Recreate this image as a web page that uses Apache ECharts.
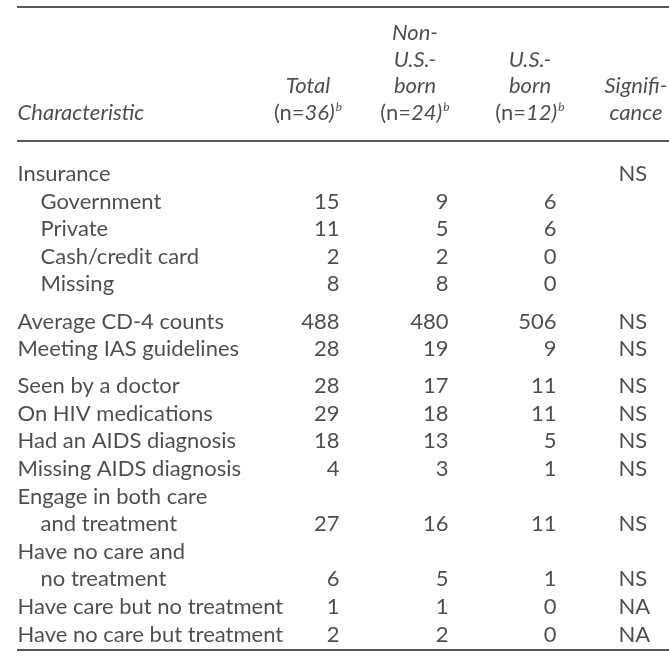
<!DOCTYPE html>
<html><head><meta charset="utf-8">
<script src="https://cdn.jsdelivr.net/npm/echarts@6/dist/echarts.min.js"></script>
<style>html,body{margin:0;padding:0;background:#fff}#c{width:669px;height:669px}</style>
</head><body><div id="c"></div>
<script>
// ---------- DATA ----------
const rowLabels = ["Insurance","Government","Private","Cash/credit card","Missing",
  "Average CD-4 counts","Meeting IAS guidelines",
  "Seen by a doctor","On HIV medications","Had an AIDS diagnosis","Missing AIDS diagnosis",
  "Engage in both care\nand treatment","Have no care and\nno treatment",
  "Have care but no treatment","Have no care but treatment"];
const rowGroup  = [0,0,0,0,0,1,1,2,2,2,2,2,2,2,2];
const rowIndent = [0,1,1,1,1,0,0,0,0,0,0,0,0,0,0];
const totalVals = [null,15,11,2,8,488,28,28,29,18,4,27,6,1,2];
const nonUSVals = [null,9,5,2,8,480,19,17,18,13,3,16,5,1,2];
const usVals    = [null,6,6,0,0,506,9,11,11,5,1,11,1,0,0];
const significance = ["NS",null,null,null,null,"NS","NS","NS","NS","NS","NS","NS","NS","NA","NA"];
const headerFirst = "Characteristic";
const headerCols = [
  ["Total","{up|(n=}{it|36)}{sup|b}"],
  ["Non-","U.S.-","born","{up|(n=}{it|24)}{sup|b}"],
  ["U.S.-","born","{up|(n=}{it|12)}{sup|b}"],
  ["Signifi-","cance"]
];

// ---------- LAYOUT / STYLE ----------
const FONT = 'Lato', FS = 22, COLOR = '#231f20';
const firstRowY = 174, pitch = 27.6, groupGap = 9.5;
const labelX = 17, indentX = 40;
const numRight = [340, 449, 557], sigLeft = 618;
const headerBottomY = 113, headerPitch = 26.7;
const headerCenters = [308, 415, 530, 636];
const rulesY = [7, 141, 650], ruleStart = 17, ruleEnd = 669;

// build points
const leftPts = [], rightPts = [], centerPts = [], sigPts = [];
let lineIdx = 0;
rowLabels.forEach((lab, r) => {
  const lines = lab.split('\n');
  let y = 0;
  lines.forEach((ln, j) => {
    y = firstRowY + lineIdx * pitch + rowGroup[r] * groupGap;
    const x = (rowIndent[r] || j > 0) ? indentX : labelX;
    leftPts.push({value: [x, y], name: ln});
    lineIdx++;
  });
  [totalVals, nonUSVals, usVals].forEach((arr, c) => {
    if (arr[r] !== null) rightPts.push({value: [numRight[c], y], name: String(arr[r])});
  });
  if (significance[r]) sigPts.push({value: [sigLeft, y], name: significance[r]});
});
const headerLeft = [{value: [labelX, headerBottomY], name: headerFirst}];
headerCols.forEach((lines, c) => {
  const n = lines.length;
  lines.forEach((ln, k) => {
    centerPts.push({value: [headerCenters[c], headerBottomY - (n - 1 - k) * headerPitch], name: ln});
  });
});

const baseText = {fontFamily: FONT, fontSize: FS, color: COLOR};
const rich = {
  up: {fontFamily: FONT, fontSize: FS, color: COLOR, fontStyle: 'normal'},
  it: {fontFamily: FONT, fontSize: FS, color: COLOR, fontStyle: 'italic'},
  sup: {fontFamily: FONT, fontSize: 12, color: COLOR, fontStyle: 'italic', verticalAlign: 'top', padding: [0, 0, 11, 1]}
};
function textSeries(data, position, extra) {
  return {
    type: 'scatter', data, symbolSize: 1, itemStyle: {color: 'transparent'}, silent: true,
    label: Object.assign({show: true, position, distance: 0, formatter: '{b}', rich}, baseText, extra || {})
  };
}

const chart = echarts.init(document.getElementById('c'), null, {renderer: 'canvas'});
chart.setOption({
  animation: false,
  backgroundColor: '#fff',
  grid: {left: 0, right: 0, top: 0, bottom: 0},
  xAxis: {type: 'value', min: 0, max: 669, show: false},
  yAxis: {type: 'value', min: 0, max: 669, inverse: true, show: false},
  series: [
    Object.assign(textSeries(leftPts, 'right'), {
      markLine: {
        silent: true, symbol: 'none', label: {show: false},
        lineStyle: {color: COLOR, width: 1.5, type: 'solid'},
        data: rulesY.map(y => [{coord: [ruleStart, y]}, {coord: [ruleEnd, y]}])
      }
    }),
    textSeries(rightPts, 'left'),
    textSeries(sigPts, 'right'),
    textSeries(headerLeft, 'right', {fontStyle: 'italic'}),
    textSeries(centerPts, 'inside', {fontStyle: 'italic'})
  ]
});
</script></body></html>
